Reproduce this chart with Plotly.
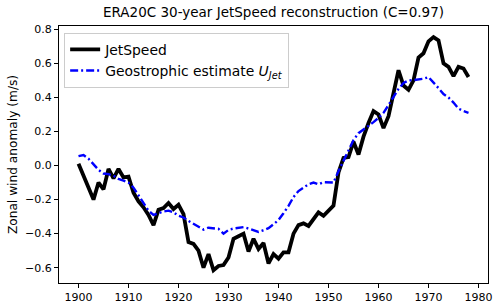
import plotly.graph_objects as go

years = list(range(1900, 1979))

jetspeed = [
    0.01, -0.06, -0.13, -0.20, -0.10, -0.14, -0.02, -0.075, -0.02, -0.07,
    -0.065, -0.16, -0.21, -0.245, -0.29, -0.35, -0.26, -0.25, -0.22, -0.255,
    -0.23, -0.285, -0.45, -0.46, -0.50, -0.60, -0.52, -0.615, -0.59, -0.585,
    -0.54, -0.43, -0.415, -0.40, -0.505, -0.43, -0.49, -0.455, -0.575, -0.52,
    -0.547, -0.51, -0.51, -0.40, -0.35, -0.34, -0.355, -0.31, -0.275, -0.295,
    -0.265, -0.235, -0.04, 0.045, 0.05, 0.14, 0.065, 0.17, 0.25, 0.32,
    0.30, 0.22, 0.29, 0.42, 0.56, 0.47, 0.445, 0.50, 0.635, 0.66,
    0.73, 0.755, 0.735, 0.60, 0.58, 0.525, 0.58, 0.57, 0.52,
]

geostrophic = [
    0.055, 0.062, 0.04, 0.005, -0.025, -0.047, -0.05, -0.06, -0.078, -0.088,
    -0.10, -0.13, -0.175, -0.225, -0.265, -0.29, -0.28, -0.27, -0.265, -0.275,
    -0.295, -0.305, -0.325, -0.343, -0.36, -0.376, -0.365, -0.37, -0.372, -0.40,
    -0.378, -0.37, -0.365, -0.362, -0.37, -0.378, -0.39, -0.38, -0.368, -0.345,
    -0.32, -0.28, -0.237, -0.185, -0.15, -0.13, -0.11, -0.10, -0.11, -0.098,
    -0.098, -0.10, -0.033, 0.025, 0.09, 0.15, 0.19, 0.21, 0.23, 0.255,
    0.28, 0.31, 0.355, 0.40, 0.45, 0.485, 0.50, 0.502, 0.505, 0.51,
    0.52, 0.49, 0.455, 0.42, 0.40, 0.37, 0.335, 0.32, 0.31,
]

xticks = [1900, 1910, 1920, 1930, 1940, 1950, 1960, 1970, 1980]
yticks = [-0.6, -0.4, -0.2, 0.0, 0.2, 0.4, 0.6, 0.8]

font = "DejaVu Sans"

fig = go.Figure()
fig.add_trace(go.Scatter(
    x=years, y=jetspeed, mode="lines", name="JetSpeed",
    line=dict(color="black", width=3.8),
))
fig.add_trace(go.Scatter(
    x=years, y=geostrophic, mode="lines",
    name="Geostrophic estimate <i>U</i><sub><i>Jet</i></sub>",
    line=dict(color="blue", width=2.4, dash="8px,3px,2px,3px"),
))

axis_common = dict(
    showgrid=False, zeroline=False, showline=True, linecolor="black",
    linewidth=1, mirror=True, ticks="outside", ticklen=4, tickcolor="black",
    tickfont=dict(family=font, size=11, color="black"), automargin=False,
)

fig.update_layout(
    width=500, height=307,
    margin=dict(l=59, r=12, t=26, b=24),
    paper_bgcolor="white", plot_bgcolor="white",
    font=dict(family=font, color="black"),
    title=dict(
        text="ERA20C 30-year JetSpeed reconstruction (C=0.97)",
        font=dict(family=font, size=13.5, color="black"),
        x=0.5, xref="paper", xanchor="center",
        y=1 - 12 / 307, yref="container", yanchor="middle",
    ),
    xaxis=dict(range=[1896.1, 1981.9], tickvals=xticks, **axis_common),
    yaxis=dict(
        range=[-0.69, 0.82], tickvals=yticks, tickformat=".1f",
        title=dict(text="Zonal wind anomaly (m/s)", standoff=4,
                   font=dict(family=font, size=12.2, color="black")),
        **axis_common,
    ),
    legend=dict(
        x=0.012, y=0.973, xanchor="left", yanchor="top",
        bgcolor="rgba(255,255,255,0.8)", bordercolor="#cccccc", borderwidth=1,
        font=dict(family=font, size=13.9, color="black"),
        tracegroupgap=0, itemwidth=30,
    ),
    showlegend=True,
)

fig.write_html(
    "out.html",
    config={"displayModeBar": False},
    post_script="document.body.style.margin='0';document.body.style.padding='0';",
)
